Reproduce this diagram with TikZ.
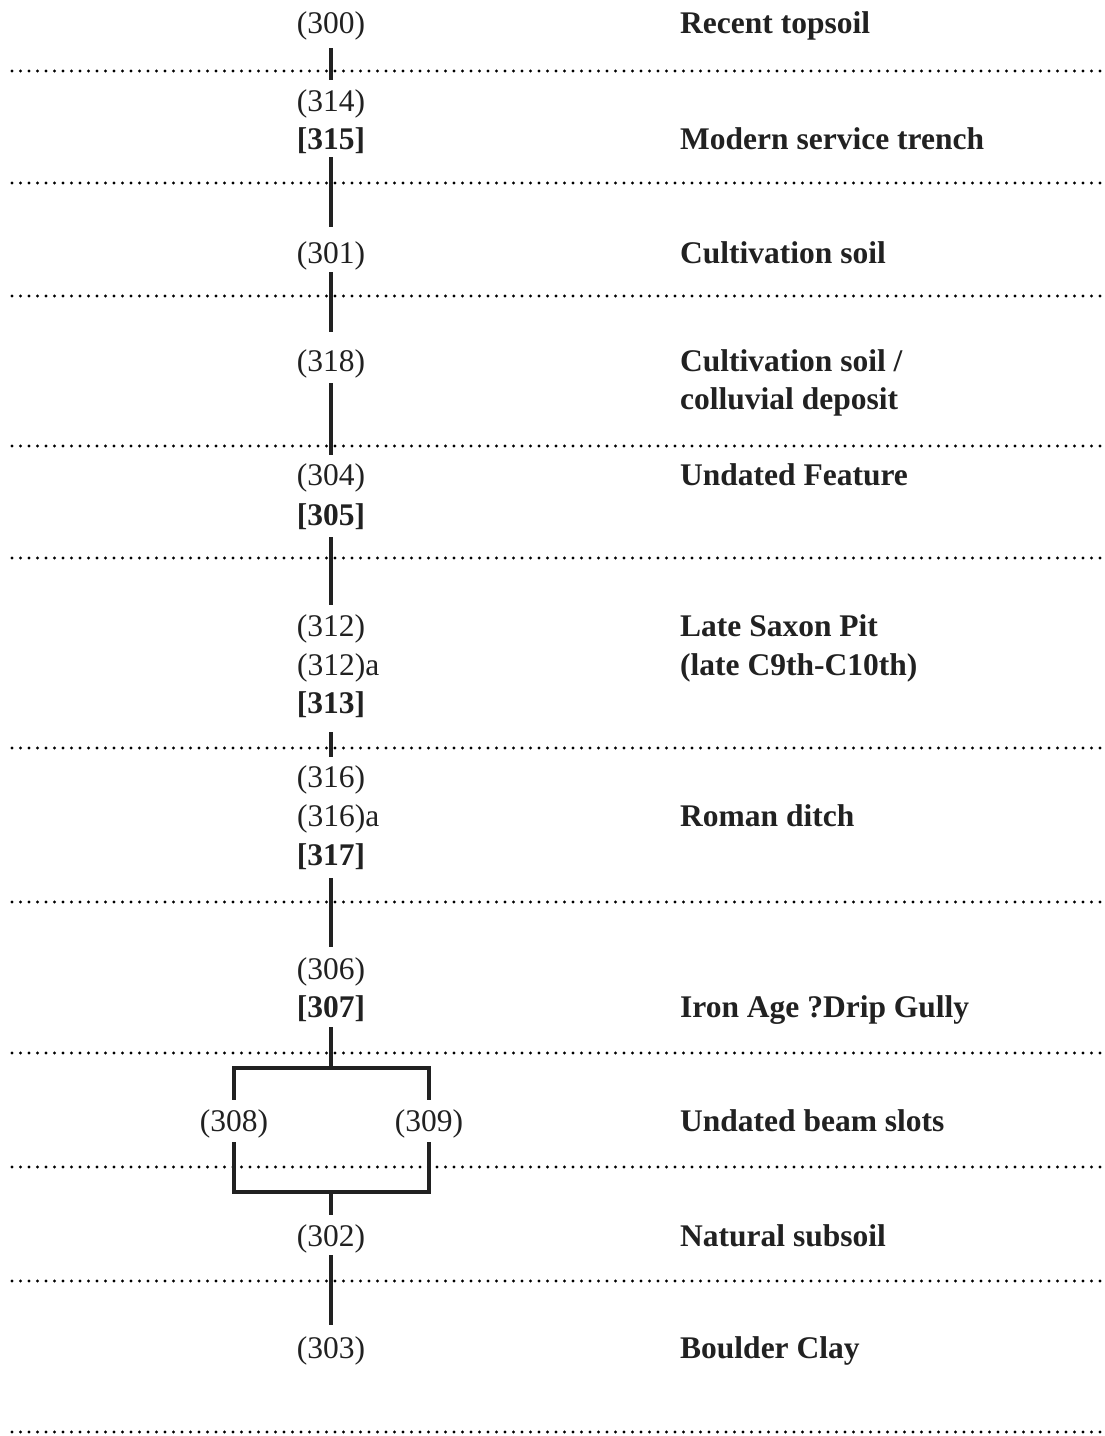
\documentclass[tikz,border=0pt]{standalone}
\usepackage{fontspec}
\setmainfont{Liberation Serif}
\definecolor{ink}{gray}{0.13}
\begin{document}
\begin{tikzpicture}[x=1pt,y=-1pt,
  unit/.style={font=\fontsize{31.5}{38}\selectfont, text=ink, inner sep=0pt,
    text height=23pt, text depth=8pt, anchor=base},
  cut/.style={unit, font=\fontsize{31.5}{38}\selectfont\bfseries},
  desc/.style={font=\fontsize{31.5}{38}\selectfont\bfseries, text=ink, inner sep=0pt, anchor=base west},
  conn/.style={draw=ink, line width=4pt},
  phase/.style={draw=black, line width=3.3pt, dash pattern=on 0pt off 8.5pt, line cap=round}]
\useasboundingbox (0,0) rectangle (1104,1436);
\fill[white] (0,0) rectangle (1104,1436);

% phase separators
\foreach \yy in {71,183,296,446,558,748,902,1053,1167,1281,1432}
  \draw[phase] (12,\yy) -- (1104,\yy);

% column units
\node[unit] (n300) at (331,33) {(300)};
\node[unit] (n314) at (331,111) {(314)};
\node[cut]  (n315) at (331,149) {[315]};
\node[unit] (n301) at (331,263) {(301)};
\node[unit] (n318) at (331,371) {(318)};
\node[unit] (n304) at (331,485) {(304)};
\node[cut]  (n305) at (331,525) {[305]};
\node[unit] (n312) at (331,636) {(312)};
\node[unit, anchor=base west] (n312a) at (297,675) {(312)a};
\node[cut]  (n313) at (331,713) {[313]};
\node[unit] (n316) at (331,787) {(316)};
\node[unit, anchor=base west] (n316a) at (297,826) {(316)a};
\node[cut]  (n317) at (331,865) {[317]};
\node[unit] (n306) at (331,979) {(306)};
\node[cut]  (n307) at (331,1017) {[307]};
\node[unit] (n308) at (234,1131) {(308)};
\node[unit] (n309) at (429,1131) {(309)};
\node[unit] (n302) at (331,1246) {(302)};
\node[unit] (n303) at (331,1358) {(303)};
\coordinate (j1) at (331,1068);
\coordinate (j2) at (331,1192);

% descriptions
\node[desc] (d1) at (680,33) {Recent topsoil};
\node[desc] (d2) at (680,149) {Modern service trench};
\node[desc] (d3) at (680,263) {Cultivation soil};
\node[desc] (d4) at (680,371) {Cultivation soil /};
\node[desc] (d4b) at (680,409) {colluvial deposit};
\node[desc] (d5) at (680,485) {Undated Feature};
\node[desc] (d6) at (680,636) {Late Saxon Pit};
\node[desc] (d6b) at (680,675) {(late C9th-C10th)};
\node[desc] (d7) at (680,826) {Roman ditch};
\node[desc] (d8) at (680,1017) {Iron Age ?Drip Gully};
\node[desc] (d9) at (680,1131) {Undated beam slots};
\node[desc] (d10) at (680,1246) {Natural subsoil};
\node[desc] (d11) at (680,1358) {Boulder Clay};

% connectors
\draw[conn, shorten <=7pt, shorten >=8pt] (n300) -- (n314);
\draw[conn, shorten <=0pt, shorten >=13pt] (n315) -- (n301);
\draw[conn, shorten <=1pt, shorten >=16pt] (n301) -- (n318);
\draw[conn, shorten <=4pt, shorten >=7pt] (n318) -- (n304);
\draw[conn, shorten <=4pt, shorten >=8pt] (n305) -- (n312);
\draw[conn, shorten <=11pt, shorten >=7pt] (n313) -- (n316);
\draw[conn, shorten <=5pt, shorten >=9pt] (n317) -- (n306);
\draw[conn, shorten <=2pt] (n307) -- (j1);
\draw[conn, shorten <=8pt, shorten >=8pt] (n308) |- (j1) -| (n309);
\draw[conn, shorten <=3pt, shorten >=3pt] (n308) |- (j2) -| (n309);
\draw[conn, shorten >=8pt] (j2) -- (n302);
\draw[conn, shorten <=1pt, shorten >=10pt] (n302) -- (n303);
\end{tikzpicture}
\end{document}
